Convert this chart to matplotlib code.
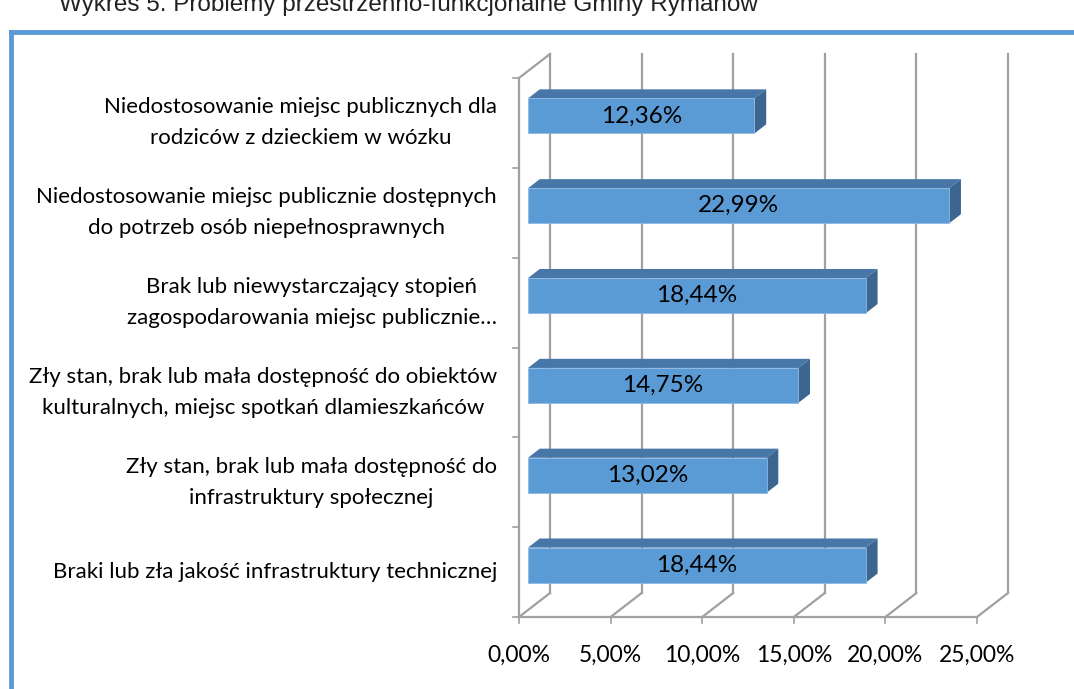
import matplotlib
matplotlib.use('Agg')
import matplotlib.pyplot as plt
from matplotlib.patches import Polygon

# data, bottom to top as drawn
labels = [
    'Braki lub zła jakość infrastruktury technicznej',
    'Zły stan, brak lub mała dostępność do\ninfrastruktury społecznej',
    'Zły stan, brak lub mała dostępność do obiektów\nkulturalnych, miejsc spotkań dlamieszkańców',
    'Brak lub niewystarczający stopień\nzagospodarowania miejsc publicznie…',
    'Niedostosowanie miejsc publicznie dostępnych\ndo potrzeb osób niepełnosprawnych',
    'Niedostosowanie miejsc publicznych dla\nrodziców z dzieckiem w wózku',
]
values = [18.44, 13.02, 14.75, 18.44, 22.99, 12.36]
xticks = [0, 5, 10, 15, 20, 25]
xtick_labels = ['0,00%', '5,00%', '10,00%', '15,00%', '20,00%', '25,00%']
title = 'Wykres 5. Problemy przestrzenno-funkcjonalne Gminy Rymanów'

W, H = 1074, 689
fig = plt.figure(figsize=(W / 100, H / 100), dpi=100)
ax = fig.add_axes([0, 0, 1, 1])
ax.set_axis_off()

# layout of the front plane in pixels
x0_px, x1_px = 519, 977
y0_px, y1_px = 617, 78
pxx = (x1_px - x0_px) / 25.0
pxy = (y0_px - y1_px) / 6.0
ax.set_xlim(-x0_px / pxx, (W - x0_px) / pxx)
ax.set_ylim(-(H - y0_px) / pxy, y0_px / pxy)

# depth (oblique) offset in data units
DX = 31 / pxx
DY = 24 / pxy


def proj(x, y, z):
    return (x + z * DX, y + z * DY)


grid_c = '#a0a0a0'
lw = 1.6
n = len(values)

# back wall gridlines and floor
for t, tl in zip(xticks, xtick_labels):
    bx, by0 = proj(t, 0, 1)
    _, by1 = proj(t, n, 1)
    ax.plot([bx, bx], [by0, by1], color=grid_c, lw=lw, zorder=1)
    ax.plot([t, bx], [0, by0], color=grid_c, lw=lw, zorder=1)
    ax.plot([t, t], [0, -6 / pxy], color=grid_c, lw=1.2, zorder=1)
    ax.text(t, -38 / pxy, tl, ha='center', va='center',
            fontsize=16.5, family='Lato', color='black')
ax.plot([0, 25], [0, 0], color=grid_c, lw=lw, zorder=1)

# left wall
ax.plot([0, 0], [0, n], color=grid_c, lw=lw, zorder=1)
tx, ty = proj(0, n, 1)
ax.plot([0, tx], [n, ty], color=grid_c, lw=lw, zorder=1)
for i in range(n + 1):
    ax.plot([-6 / pxx, 0], [i, i], color=grid_c, lw=1.2, zorder=1)

# bars
front_c = '#5b9bd5'
top_c = '#4677a8'
side_c = '#3c6690'
z0, z1 = 0.29, 0.67
hb = 0.39
for i, v in enumerate(values):
    yb = i + 0.5 - hb / 2
    yt = i + 0.5 + hb / 2
    f = [proj(0, yb, z0), proj(v, yb, z0), proj(v, yt, z0), proj(0, yt, z0)]
    top = [proj(0, yt, z0), proj(v, yt, z0), proj(v, yt, z1), proj(0, yt, z1)]
    side = [proj(v, yb, z0), proj(v, yb, z1), proj(v, yt, z1), proj(v, yt, z0)]
    ax.add_patch(Polygon(top, closed=True, facecolor=top_c, edgecolor='none', zorder=3))
    ax.add_patch(Polygon(side, closed=True, facecolor=side_c, edgecolor='none', zorder=3))
    ax.add_patch(Polygon(f, closed=True, facecolor=front_c, edgecolor='#8fb8e3',
                         lw=0.6, zorder=4))
    cx, cy = proj(v / 2, i + 0.5, z0)
    ax.text(cx, cy, f'{v:.2f}%'.replace('.', ','), ha='center', va='center',
            fontsize=17.5, family='Lato', color='black', zorder=5)

# category labels
for i, lab in enumerate(labels):
    ax.text(-22 / pxx, i + 0.5, lab, ha='right', va='center', multialignment='center',
            fontsize=16, family='Lato', color='black', linespacing=1.68)

# frame border and cut-off title
yb_fig = 1 - 32 / H
fig.add_artist(plt.Line2D([11 / W, 11 / W], [0, yb_fig], transform=fig.transFigure,
                          color='#5b9bd5', lw=3.5))
fig.add_artist(plt.Line2D([11 / W, 1], [yb_fig, yb_fig], transform=fig.transFigure,
                          color='#5b9bd5', lw=3.5))
fig.text(59 / W, 1 - 11 / H, title, ha='left', va='baseline', fontsize=17.5,
         family='Liberation Sans', color='#222222')

fig.savefig('out.png', dpi=100)
